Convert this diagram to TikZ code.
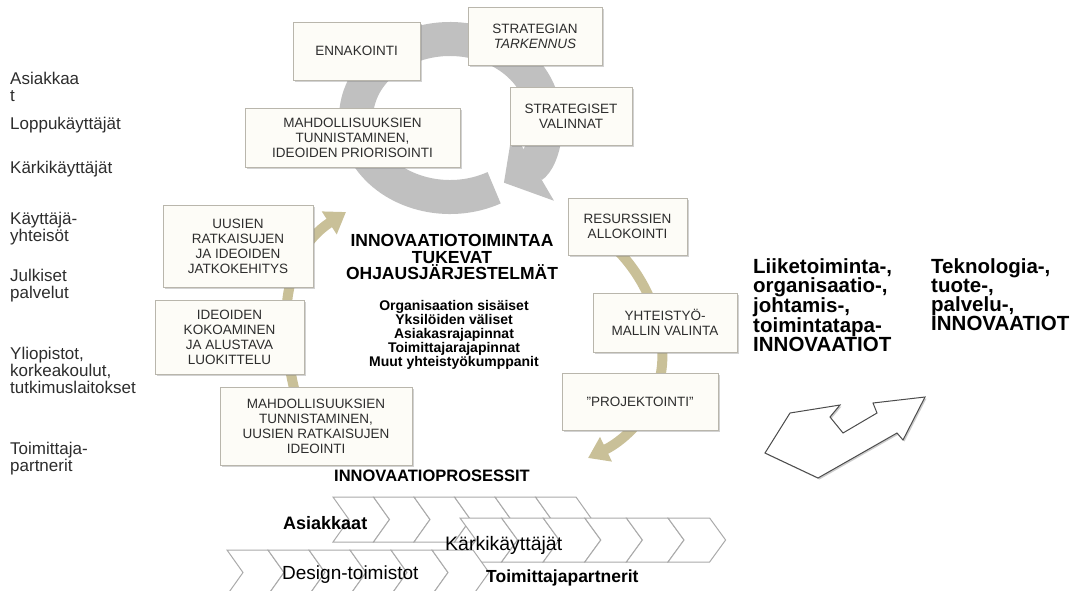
\documentclass[tikz,border=0pt]{standalone}
\usepackage{fontspec}
\setmainfont{Liberation Sans}
\usetikzlibrary{arrows.meta,shadows}
\definecolor{ringgray}{RGB}{192,192,192}
\definecolor{tanc}{RGB}{201,192,152}
\definecolor{boxfill}{RGB}{253,252,247}
\definecolor{boxline}{RGB}{185,182,172}
\definecolor{txt}{RGB}{45,45,45}
\definecolor{chev}{RGB}{170,170,170}
\begin{document}
\begin{tikzpicture}[x=1pt,y=-1pt,
  box/.style={draw=boxline, fill=boxfill, line width=0.8pt, align=center, inner sep=0pt, text=txt,
    font=\fontsize{13.5}{15}\selectfont,
    drop shadow={shadow xshift=1.6pt, shadow yshift=-1.6pt, fill=gray, opacity=0.35}},
  lbl/.style={anchor=north west, align=left, inner sep=0pt, text=txt, font=\fontsize{17}{17}\selectfont},
  ringarrow/.style={draw=ringgray, line width=34pt, -{Triangle[length=34pt,width=80pt]}},
  tanarrow/.style={draw=tanc, line width=10pt, -{Triangle[length=20pt,width=26pt]}},
  chevst/.style={draw=chev, line width=1pt, fill=white},
  bigtxt/.style={anchor=north west, align=left, inner sep=0pt, text=black, font=\bfseries\fontsize{20.5}{19}\selectfont},
  bigarrow/.style={draw=black!70, line width=1pt, fill=white, drop shadow={shadow xshift=1.5pt, shadow yshift=-1.5pt, fill=gray, opacity=0.4}}
]
\useasboundingbox (0,0) rectangle (1081,590);
\fill[white] (0,0) rectangle (1081,590);
\begin{scope}
\clip (0,0) rectangle (1081,590);

% gray circular arrow
\coordinate (ringc) at (450,118);
\draw[ringarrow] (ringc) ++(298:94pt and 79pt) arc[start angle=298, end angle=-55, x radius=94pt, y radius=79pt];

% tan arrows
\coordinate (t1s) at (297,400);
\coordinate (t1e) at (346,212);
\draw[tanarrow] (t1s) .. controls (278,330) and (280,255) .. (t1e);
\coordinate (t2s) at (612,245);
\coordinate (t2m) at (662,365);
\coordinate (t2e) at (588,458);
\draw[tanarrow] (t2s) .. controls (650,280) and (665,330) .. (t2m) .. controls (658,410) and (625,440) .. (t2e);

% boxes
\node[box, minimum width=127pt, minimum height=58pt] (enn) at (356.5,51) {ENNAKOINTI};
\node[box, minimum width=134pt, minimum height=58pt] (strt) at (535,36) {STRATEGIAN\\\itshape TARKENNUS};
\node[box, minimum width=122pt, minimum height=58pt] (strv) at (571,116) {STRATEGISET\\VALINNAT};
\node[box, minimum width=215pt, minimum height=59pt] (mahd1) at (352.5,137.5) {MAHDOLLISUUKSIEN\\TUNNISTAMINEN,\\IDEOIDEN PRIORISOINTI};
\node[box, minimum width=150pt, minimum height=82pt] (uus) at (238,246) {UUSIEN\\RATKAISUJEN\\JA IDEOIDEN\\JATKOKEHITYS};
\node[box, minimum width=149pt, minimum height=74pt] (ide) at (229.5,337) {IDEOIDEN\\KOKOAMINEN\\JA ALUSTAVA\\LUOKITTELU};
\node[box, minimum width=192pt, minimum height=78pt] (mahd2) at (316,426) {MAHDOLLISUUKSIEN\\TUNNISTAMINEN,\\UUSIEN RATKAISUJEN\\IDEOINTI};
\node[box, minimum width=119pt, minimum height=57pt] (res) at (627.5,226.5) {RESURSSIEN\\ALLOKOINTI};
\node[box, minimum width=144pt, minimum height=59pt] (yht) at (665,322.5) {YHTEISTYÖ-\\MALLIN VALINTA};
\node[box, minimum width=156pt, minimum height=57pt] (proj) at (640,401.5) {\char"22 PROJEKTOINTI\char"22};

% centre texts
\node[align=center, inner sep=0pt, font=\bfseries\fontsize{17.5}{16.5}\selectfont] (title) at (452,257) {INNOVAATIOTOIMINTAA\\TUKEVAT\\OHJAUSJÄRJESTELMÄT};
\node[align=center, inner sep=0pt, font=\bfseries\fontsize{14}{14}\selectfont] (sub) at (454,335) {Organisaation sisäiset\\Yksilöiden väliset\\Asiakasrajapinnat\\Toimittajarajapinnat\\Muut yhteistyökumppanit};
\node[inner sep=0pt, font=\bfseries\fontsize{16.5}{16.5}\selectfont] (proc) at (432,476) {INNOVAATIOPROSESSIT};

% left labels
\node[lbl] (l1) at (10,72) {Asiakkaa\\t};
\node[lbl] (l2) at (10,117) {Loppukäyttäjät};
\node[lbl] (l3) at (10,161) {Kärkikäyttäjät};
\node[lbl] (l4) at (10,212) {Käyttäjä-\\yhteisöt};
\node[lbl] (l5) at (10,269) {Julkiset\\palvelut};
\node[lbl] (l6) at (10,347) {Yliopistot,\\korkeakoulut,\\tutkimuslaitokset};
\node[lbl] (l7) at (10,442) {Toimittaja-\\partnerit};

% right texts
\node[bigtxt] (inn1) at (753,258) {Liiketoiminta-,\\organisaatio-,\\johtamis-,\\toimintatapa-\\INNOVAATIOT};
\node[bigtxt] (inn2) at (931,258) {Teknologia-,\\tuote-,\\palvelu-,\\INNOVAATIOT};

% bent double arrow
\draw[bigarrow] (790,413) -- (840,405) -- (830,417) -- (843,433) -- (877,413) -- (873,403) -- (925,397) -- (903,440) -- (897,433) -- (818,478) -- (765,453) -- cycle;

% chevron rows
\foreach \i in {0,...,5} {
  \draw[chevst] ({333+40.5*\i},497) -- ++(40.5,0) -- ++(16,22.5) -- ++(-16,22.5) -- ++(-40.5,0) -- ++(16,-22.5) -- cycle;
}
\foreach \i in {0,...,5} {
  \draw[chevst] ({460+41.6*\i},518) -- ++(41.6,0) -- ++(16,22) -- ++(-16,22) -- ++(-41.6,0) -- ++(16,-22) -- cycle;
}
\foreach \i in {0,...,5} {
  \draw[chevst] ({227+41*\i},550) -- ++(41,0) -- ++(16,22.5) -- ++(-16,22.5) -- ++(-41,0) -- ++(16,-22.5) -- cycle;
}
\node[anchor=west, inner sep=0pt, font=\bfseries\fontsize{18}{18}\selectfont] (c1) at (283,523) {Asiakkaat};
\node[anchor=west, inner sep=0pt, text=black, font=\fontsize{19.5}{19.5}\selectfont] (c2) at (445,545) {Kärkikäyttäjät};
\node[anchor=west, inner sep=0pt, text=black, font=\fontsize{19}{19}\selectfont] (c3) at (282,575) {Design-toimistot};
\node[anchor=west, inner sep=0pt, font=\bfseries\fontsize{17.5}{17.5}\selectfont] (c4) at (486,578) {Toimittajapartnerit};
\end{scope}
\end{tikzpicture}
\end{document}
